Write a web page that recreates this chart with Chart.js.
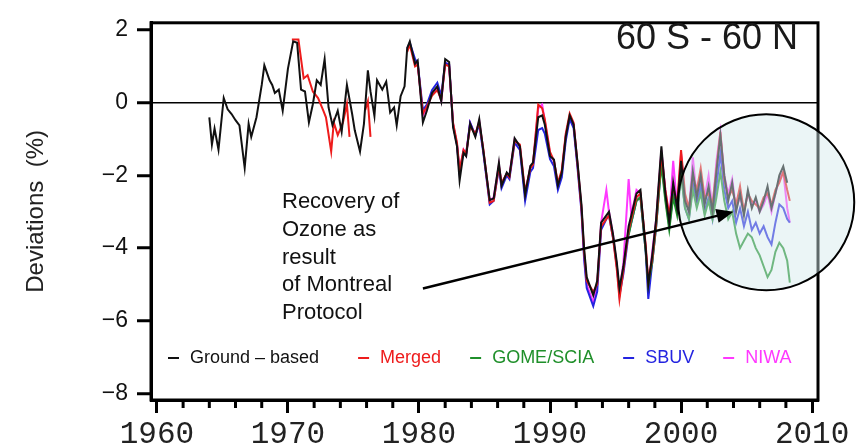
<!DOCTYPE html>
<html><head><meta charset="utf-8">
<script src="https://cdn.jsdelivr.net/npm/chart.js@4.4.1/dist/chart.umd.min.js"></script>
<style>html,body{margin:0;padding:0;background:#fff;overflow:hidden}canvas{display:block}</style>
</head><body>
<canvas id="c" width="857" height="448"></canvas>
<script>
// ---------- DATA ----------
const satYears = [1979.1,1979.3,1979.7,1979.9,1980.3,1980.6,1981.0,1981.4,1981.7,1982.0,1982.3,1982.6,1982.9,1983.1,1983.4,1983.6,1983.9,1984.3,1984.6,1984.9,1985.4,1985.7,1986.1,1986.3,1986.7,1986.9,1987.3,1987.7,1988.1,1988.5,1988.7,1989.1,1989.4,1989.6,1990.0,1990.3,1990.6,1990.9,1991.2,1991.5,1991.8,1992.1,1992.4,1992.6,1992.8,1993.3,1993.6,1993.9,1994.3,1994.5,1994.8,1995.1,1995.3,1995.6,1996.0,1996.2,1996.6,1996.9,1997.3,1997.5,1997.8,1998.1,
  1998.5,1998.8,1999.1,1999.4,1999.7,2000.0,2000.3,2000.6,2000.9,2001.2,2001.5,2001.8,2002.1,2002.4,2002.7,2003.0,2003.3,2003.6,2003.9,2004.2,2004.5,2004.8,2005.1,2005.4,2005.7,2006.0,2006.3,2006.6,2006.9,2007.2,2007.5,2007.8,2008.1,2008.3];

const groundEarlyYears = [1964.0,1964.2,1964.4,1964.7,1965.1,1965.4,1965.7,1966.0,1966.3,1966.7,1967.0,1967.2,1967.6,1968.0,1968.2,1968.6,1968.8,1969.0,1969.3,1969.6,1970.0,1970.4,1970.7,1971.0,1971.3,1971.6,1971.9,1972.2,1972.5,1972.8,1973.1,1973.4,1973.8,1974.1,1974.5,1974.9,1975.1,1975.5,1975.8,1976.1,1976.3,1976.6,1976.8,1977.2,1977.5,1977.8,1978.1,1978.3,1978.6,1978.9];
const groundEarlyValues = [-0.40,-1.15,-0.71,-1.29,0.13,-0.18,-0.31,-0.48,-0.62,-1.79,-0.58,-0.94,-0.40,0.49,1.03,0.62,0.49,0.27,0.36,-0.22,0.94,1.69,1.65,0.36,0.31,-0.54,-0.04,0.62,0.49,1.20,-0.13,-0.62,-0.22,-0.80,0.49,-0.31,-0.76,-1.34,-0.58,0.89,0.31,-0.36,0.62,0.36,0.58,-0.27,-0.13,-0.62,0.18,0.45];
const groundSatValues = [1.50,1.69,1.07,1.16,-0.54,-0.22,0.27,0.45,0.04,1.20,1.12,-0.67,-1.20,-2.14,-1.38,-1.47,-0.58,-0.94,-0.45,-1.29,-2.68,-2.63,-1.65,-2.28,-1.92,-2.01,-0.98,-1.20,-2.54,-1.74,-1.65,-0.40,-0.35,-0.60,-1.47,-1.56,-2.28,-1.92,-0.94,-0.35,-0.60,-1.65,-2.80,-4.00,-4.80,-5.30,-4.90,-3.30,-3.10,-3.00,-3.60,-4.40,-5.10,-4.50,-3.40,-3.10,-2.50,-2.40,-4.00,-5.00,-4.20,-3.20,
  -1.20,-2.50,-3.30,-2.20,-2.90,-1.60,-2.70,-3.00,-1.90,-2.60,-2.00,-2.80,-2.30,-3.00,-1.90,-0.90,-2.00,-2.70,-2.20,-3.00,-2.50,-3.10,-2.40,-2.90,-2.60,-3.00,-2.70,-2.30,-2.90,-2.50,-2.00,-1.75,-2.20,null];

const mergedEarlyYears = [1970.3,1970.8,1971.2,1971.5,1971.9,1972.3,1972.7,1972.9,1973.3,1973.5,1973.8,1974.2,1974.5,1974.7,1975.3,1975.9,1976.1,1976.3,1977.0];
const mergedEarlyValues = [1.74,1.74,0.67,0.76,0.31,0.13,-0.22,-0.40,-1.34,-0.54,-0.89,-0.54,-0.04,-0.94,null,-0.20,0.04,-0.94,null];
const mergedSatValues = [1.40,1.60,1.00,1.05,-0.30,-0.10,0.20,0.35,0.10,1.05,1.00,-0.55,-1.10,-1.85,-1.30,-1.40,-0.65,-0.85,-0.55,-1.25,-2.75,-2.70,-1.75,-2.20,-1.95,-2.05,-1.05,-1.15,-2.45,-1.80,-1.70,-0.05,-0.15,-0.45,-1.35,-1.60,-2.20,-1.85,-0.85,-0.30,-0.55,-1.70,-2.90,-4.10,-4.90,-5.20,-5.00,-3.40,-3.20,-3.10,-3.70,-4.60,-5.40,-4.60,-3.50,-3.20,-2.60,-2.50,-3.90,-4.90,-4.30,-3.30,
  -1.40,-2.40,-3.10,-2.30,-2.80,-1.30,-2.50,-2.90,-2.00,-2.40,-1.80,-2.60,-2.50,-2.80,-1.80,-0.80,-2.10,-2.60,-2.40,-2.80,-2.30,-3.00,-2.50,-2.70,-2.80,-2.90,-2.60,-2.50,-2.80,-2.40,-2.20,-1.90,-2.40,-2.70];

const sbuvValues = [1.50,1.65,1.20,1.10,-0.20,-0.05,0.35,0.55,0.20,1.10,1.05,-0.60,-1.15,-1.95,-1.35,-1.40,-0.55,-0.90,-0.60,-1.35,-2.80,-2.70,-1.80,-2.35,-2.00,-2.10,-1.10,-1.30,-2.70,-1.90,-1.80,-0.75,-0.70,-0.85,-1.55,-1.75,-2.40,-2.05,-1.05,-0.45,-0.70,-1.80,-3.00,-4.30,-5.10,-5.60,-5.20,-3.50,-3.20,-3.10,-3.70,-4.50,-5.30,-4.70,-3.60,-3.30,-2.70,-2.60,-4.10,-5.40,-4.40,-3.40,
  -1.60,-2.60,-3.40,-2.50,-3.00,-1.90,-2.90,-3.20,-2.20,-2.80,-2.30,-3.00,-2.60,-3.20,-2.30,-1.40,-2.40,-2.90,-2.70,-3.30,-2.90,-3.40,-3.00,-3.50,-3.30,-3.60,-3.40,-3.70,-3.90,-3.30,-2.80,-2.90,-3.20,-3.30];

const niwaValues = [1.45,1.62,1.10,1.08,-0.35,-0.15,0.25,0.40,0.05,1.10,1.05,-0.60,-1.15,-1.90,-1.30,-1.45,-0.55,-0.90,-0.50,-1.30,-2.70,-2.60,-1.70,-2.25,-1.95,-2.00,-1.00,-1.20,-2.55,-1.75,-1.70,-0.15,-0.05,-0.50,-1.40,-1.60,-2.30,-1.90,-0.90,-0.40,-0.60,-1.70,-2.90,-4.20,-5.00,-5.50,-5.00,-3.30,-2.40,-3.00,-3.60,-4.50,-5.20,-4.40,-2.10,-3.10,-2.40,-2.50,-4.00,-5.10,-4.10,-3.20,
  -1.30,-2.40,-3.20,-1.60,-2.90,-1.40,-2.60,-3.00,-1.50,-2.60,-2.10,-2.60,-2.00,-2.90,-1.60,-0.80,-2.00,-2.50,-2.10,-2.90,-2.60,-3.00,-2.50,-2.80,-2.70,-3.00,-2.80,-2.50,-3.00,-2.50,-2.10,-1.90,-2.90,-3.30];

const gomeYears = [1996.0,1996.2,1996.6,1996.9,1997.3,1997.5,1997.8,1998.1,
  1998.5,1998.8,1999.1,1999.4,1999.7,2000.0,2000.3,2000.6,2000.9,2001.2,2001.5,2001.8,2002.1,2002.4,2002.7,2003.0,2003.3,2003.6,2003.9,2004.2,2004.5,2004.8,2005.1,2005.4,2005.7,2006.0,2006.3,2006.6,2006.9,2007.2,2007.5,2007.8,2008.1,2008.3];
const gomeValues = [-3.65,-3.30,-2.70,-2.60,-4.10,-5.00,-4.40,-3.40,
  -1.70,-2.70,-3.50,-2.60,-3.10,-2.00,-2.90,-3.20,-2.40,-2.90,-2.50,-3.10,-2.70,-3.20,-2.60,-1.90,-2.70,-3.20,-3.00,-3.60,-4.00,-3.80,-3.60,-3.70,-4.00,-4.20,-4.50,-4.80,-4.60,-4.10,-3.85,-4.00,-4.35,-4.95];

const seriesLabels = ['Ground – based','Merged','GOME/SCIA','SBUV','NIWA'];
const xTickLabels = [1960,1970,1980,1990,2000,2010];
const yTickValues = [-8,-6,-4,-2,0,2];
const annotationLines = ['Recovery of','Ozone as','result','of Montreal','Protocol'];
const panelTitle = '60 S - 60 N';
const yTitle = 'Deviations  (%)';

// ---------- BUILD ----------
const pts = (xs, ys) => xs.map((x, i) => ({x, y: ys[i]}));
const groundData = pts(groundEarlyYears.concat(satYears), groundEarlyValues.concat(groundSatValues));
const mergedData = pts(mergedEarlyYears.concat(satYears), mergedEarlyValues.concat(mergedSatValues));
const colors = ['#111111','#ee1c1c','#1f8f2a','#2424e0','#ff38ff'];
const mk = (i, data) => ({label: seriesLabels[i], data, borderColor: colors[i], backgroundColor: colors[i],
  borderWidth: 2, pointRadius: 0, tension: 0, spanGaps: false, fill: false});

const overlay = {
  id: 'overlay',
  afterDraw(chart) {
    const {ctx, chartArea: a, scales: {x, y}} = chart;
    ctx.save();
    // minor ticks
    ctx.strokeStyle = '#000'; ctx.lineWidth = 3;
    for (let v = 1962; v < 2010; v += 2) {
      if (v % 10 === 0) continue;
      const px = x.getPixelForValue(v);
      ctx.beginPath(); ctx.moveTo(px, a.bottom); ctx.lineTo(px, a.bottom + 8); ctx.stroke();
    }
    // frame
    ctx.lineWidth = 3;
    ctx.strokeRect(a.left, a.top, a.right - a.left, a.bottom - a.top);
    // circle highlight
    const cx = x.getPixelForValue(2006.5), cy = y.getPixelForValue(-2.74);
    ctx.beginPath(); ctx.arc(cx, cy, 88, 0, Math.PI * 2);
    ctx.fillStyle = 'rgba(210,232,236,0.45)'; ctx.fill();
    ctx.lineWidth = 2; ctx.strokeStyle = '#000'; ctx.stroke();
    // arrow
    const x0 = x.getPixelForValue(1980.3), y0 = y.getPixelForValue(-5.11);
    const x1 = x.getPixelForValue(2004.0), y1 = y.getPixelForValue(-3.0);
    const ang = Math.atan2(y1 - y0, x1 - x0);
    ctx.lineWidth = 2.5; ctx.strokeStyle = '#000';
    ctx.beginPath(); ctx.moveTo(x0, y0);
    ctx.lineTo(x1 - 14 * Math.cos(ang), y1 - 14 * Math.sin(ang)); ctx.stroke();
    ctx.beginPath(); ctx.moveTo(x1, y1);
    ctx.lineTo(x1 - 17 * Math.cos(ang) + 7 * Math.sin(ang), y1 - 17 * Math.sin(ang) - 7 * Math.cos(ang));
    ctx.lineTo(x1 - 17 * Math.cos(ang) - 7 * Math.sin(ang), y1 - 17 * Math.sin(ang) + 7 * Math.cos(ang));
    ctx.closePath(); ctx.fillStyle = '#000'; ctx.fill();
    // annotation text
    ctx.font = '22px "Liberation Sans", Arial, sans-serif';
    ctx.fillStyle = '#111'; ctx.textAlign = 'left'; ctx.textBaseline = 'middle';
    annotationLines.forEach((t, i) => ctx.fillText(t, 282, 202 + i * 27.8));
    // panel title
    ctx.font = '36px "Liberation Sans", Arial, sans-serif';
    ctx.fillStyle = '#1a1a1a'; ctx.textAlign = 'right';
    ctx.fillText(panelTitle, 798, 39);
    // legend
    ctx.font = '18px "Liberation Sans", Arial, sans-serif';
    ctx.textAlign = 'left';
    let lx = 168; const ly = 358;
    chart.data.datasets.forEach((d, i) => {
      ctx.strokeStyle = d.borderColor; ctx.lineWidth = 2;
      ctx.beginPath(); ctx.moveTo(lx, ly); ctx.lineTo(lx + 11, ly); ctx.stroke();
      ctx.fillStyle = d.borderColor;
      ctx.fillText(d.label, lx + 22, ly);
      lx += 22 + ctx.measureText(d.label).width + (i === 0 ? 39 : 29);
    });
    ctx.restore();
  }
};

new Chart(document.getElementById('c'), {
  type: 'line',
  data: {datasets: [
    mk(0, groundData),
    mk(1, mergedData),
    mk(2, pts(gomeYears, gomeValues)),
    mk(3, pts(satYears, sbuvValues)),
    mk(4, pts(satYears, niwaValues))
  ]},
  options: {
    responsive: false, animation: false, devicePixelRatio: 1,
    layout: {padding: {top: 13, right: 39, left: 0, bottom: 0}},
    plugins: {legend: {display: false}, tooltip: {enabled: false}},
    scales: {
      x: {
        type: 'linear', min: 1959.55, max: 2010.45,
        afterBuildTicks: s => { s.ticks = xTickLabels.map(v => ({value: v})); },
        afterFit: s => { s.height = 48; },
        ticks: {autoSkip: false, maxRotation: 0, padding: 3, color: '#222',
          font: {family: '"Liberation Mono", "DejaVu Sans Mono", monospace', size: 31},
          callback: v => String(v)},
        grid: {drawOnChartArea: false, tickLength: 13, tickWidth: 3, tickColor: '#000'},
        border: {display: true, color: '#000', width: 3}
      },
      y: {
        min: -8.18, max: 2.2,
        afterBuildTicks: s => { s.ticks = yTickValues.map(v => ({value: v})); },
        afterFit: s => { s.width = 151; },
        ticks: {padding: 9, color: '#111',
          font: {family: '"Liberation Sans", Arial, sans-serif', size: 23},
          callback: v => (v < 0 ? '\u2212' + Math.abs(v) : String(v))},
        grid: {drawOnChartArea: true, tickLength: 14, tickWidth: 3, tickColor: '#000',
          lineWidth: 1.5, color: c => (c.tick && c.tick.value === 0 ? '#000' : 'rgba(0,0,0,0)')},
        border: {display: true, color: '#000', width: 3},
        title: {display: true, text: yTitle, color: '#222', padding: {top: 22, bottom: 0},
          font: {family: '"Liberation Sans", Arial, sans-serif', size: 24}}
      }
    }
  },
  plugins: [overlay]
});
</script>
</body></html>
